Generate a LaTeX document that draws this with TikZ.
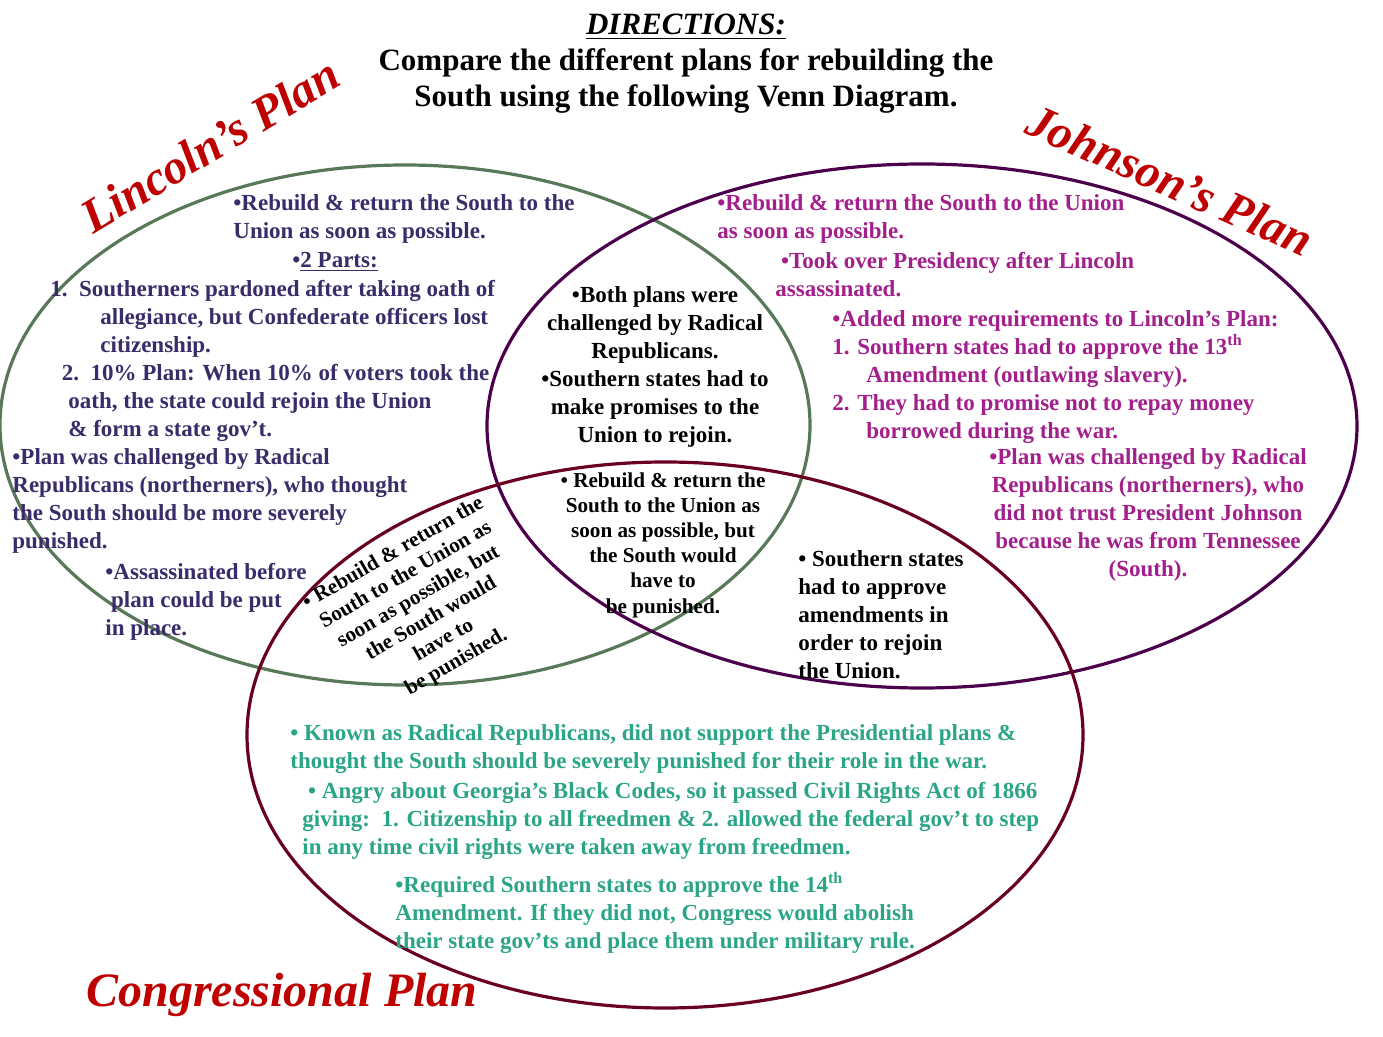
\documentclass[tikz,border=0pt]{standalone}
\usepackage{fontspec}
\setmainfont{Liberation Serif}
\begin{document}
\begin{tikzpicture}[x=0.5pt,y=-0.5pt,
 txt/.style={inner sep=0pt,anchor=north west,align=left,font=\bfseries\fontsize{11.5}{14}\selectfont},
 sml/.style={font=\bfseries\fontsize{10.6}{12.6}\selectfont},
 ttl/.style={inner sep=0pt,text=red!75!black,font=\bfseries\itshape\fontsize{24}{26}\selectfont},
 ring/.style={line width=1.6pt}]
\definecolor{lin}{HTML}{3A2C6A}
\definecolor{joh}{HTML}{A3208C}
\definecolor{con}{HTML}{2BA587}
\useasboundingbox (0,0) rectangle (1383,1037);
\fill[white] (0,0) rectangle (1383,1037);
\draw[ring,color=black!60!green!30!gray] (405,425) ellipse [x radius=405,y radius=260];
\draw[ring,color=violet!60!black] (922,426) ellipse [x radius=435,y radius=262];
\draw[ring,color=purple!55!black] (665,735) ellipse [x radius=418,y radius=273];
\node[inner sep=0pt,align=center,font=\bfseries\fontsize{15.5}{18}\selectfont] (dir) at (686,64) {\underline{\itshape DIRECTIONS:}\\Compare the different plans for rebuilding the\\South using the following Venn Diagram.};
\node[ttl,rotate=31] (tl) at (210,145) {Lincoln's Plan};
\node[ttl,rotate=-24] (tj) at (1170,180) {Johnson's Plan};
\node[ttl] (tc) at (282,995) {Congressional Plan};
\node[txt,text=lin] (l1) at (233,194) {•Rebuild \& return the South to the\\Union as soon as possible.};
\node[txt,text=lin] (l2) at (292,252) {•\underline{2 Parts:}};
\node[txt,text=lin] (l3) at (50,280) {1.\ \ Southerners pardoned after taking oath of\\\hspace*{25pt}allegiance, but Confederate officers lost\\\hspace*{25pt}citizenship.\\\hspace*{0pt}\ \ 2.\ \ 10\% Plan: When 10\% of voters took the\\\hspace*{9pt}oath, the state could rejoin the Union\\\hspace*{9pt}\& form a state gov't.};
\node[txt,text=lin] (l4) at (12,448) {•Plan was challenged by Radical\\Republicans (northerners), who thought\\the South should be more severely\\punished.};
\node[txt,text=lin] (l5) at (105,563) {•Assassinated before\\\ plan could be put\\in place.};
\node[txt,text=joh] (j1) at (717,194) {•Rebuild \& return the South to the Union\\as soon as possible.};
\node[txt,text=joh] (j2) at (775,252) {\hspace*{0pt}\ •Took over Presidency after Lincoln\\assassinated.};
\node[txt,text=joh] (j3) at (832,310) {•Added more requirements to Lincoln's Plan:\\1. Southern states had to approve the 13\textsuperscript{th}\\\hspace*{17pt}Amendment (outlawing slavery).\\2. They had to promise not to repay money\\\hspace*{17pt}borrowed during the war.};
\node[txt,text=joh,align=center,anchor=north] (j4) at (1148,448) {•Plan was challenged by Radical\\Republicans (northerners), who\\did not trust President Johnson\\because he was from Tennessee\\(South).};
\node[txt,align=center,anchor=north] (c1) at (655,286) {•Both plans were\\challenged by Radical\\Republicans.\\•Southern states had to\\make promises to the\\Union to rejoin.};
\node[txt,sml,align=center,anchor=north] (c2) at (663,472) {• Rebuild \& return the\\South to the Union as\\soon as possible, but\\the South would\\have to\\be punished.};
\node[txt,align=left,anchor=north west] (c3) at (798,550) {• Southern states\\had to approve\\amendments in\\order to rejoin\\the Union.};
\node[txt,sml,align=center,anchor=center,rotate=30] (c4) at (425,608) {• Rebuild \& return the\\South to the Union as\\soon as possible, but\\the South would\\have to\\be punished.};
\node[txt,text=con] (g1) at (290,724) {• Known as Radical Republicans, did not support the Presidential plans \&\\thought the South should be severely punished for their role in the war.};
\node[txt,text=con] (g2) at (302,782) {\hspace*{0pt}\ • Angry about Georgia's Black Codes, so it passed Civil Rights Act of 1866\\giving:\ \ 1. Citizenship to all freedmen \& 2. allowed the federal gov't to step\\in any time civil rights were taken away from freedmen.};
\node[txt,text=con] (g3) at (395,872) {•Required Southern states to approve the 14\textsuperscript{th}\\Amendment. If they did not, Congress would abolish\\their state gov'ts and place them under military rule.};
\end{tikzpicture}
\end{document}
